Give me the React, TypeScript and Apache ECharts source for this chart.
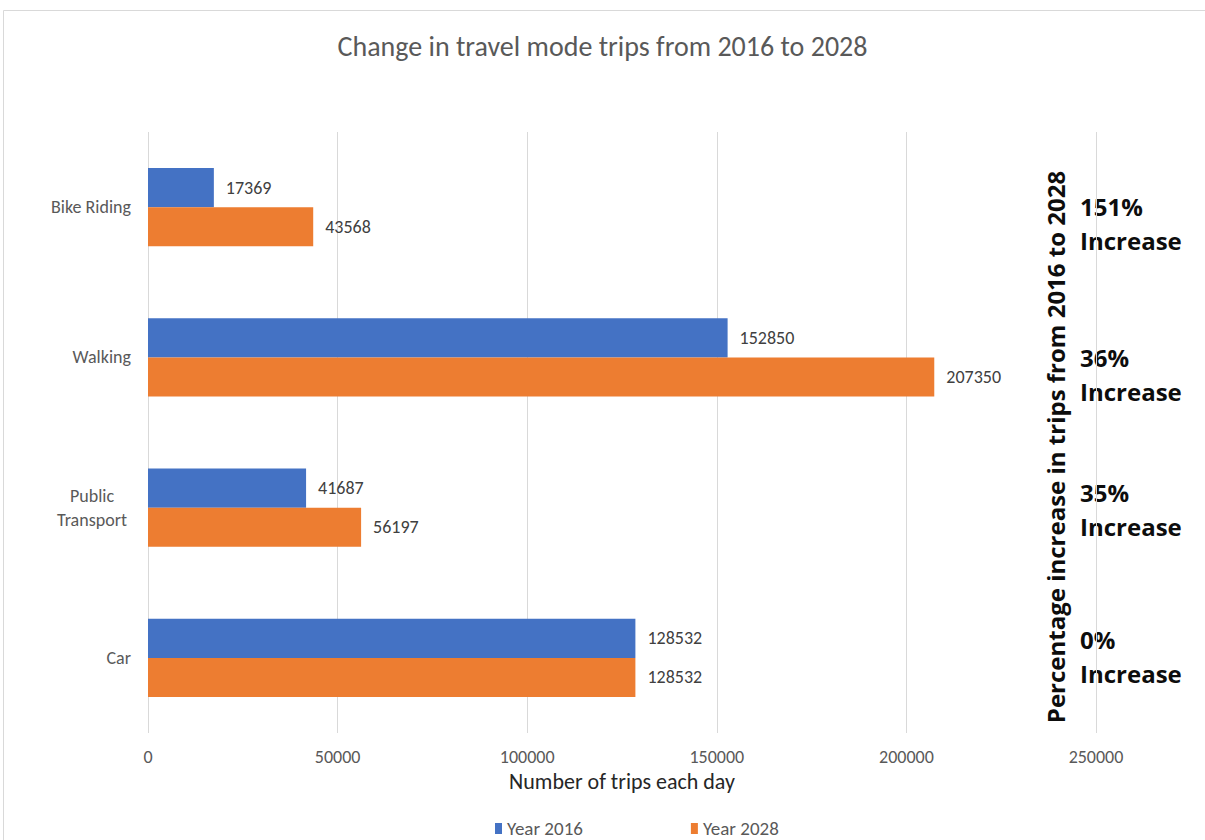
import React, { useEffect, useRef } from "react";
import * as echarts from "echarts";

const categories = ["Car", "Public Transport", "Walking", "Bike Riding"];
const year2016 = [128532, 41687, 152850, 17369];
const year2028 = [128532, 56197, 207350, 43568];
const increaseLabels = ["0%", "35%", "36%", "151%"];
const xTicks = [0, 50000, 100000, 150000, 200000, 250000];

// annotation layout (vertical offset of first line from category centre)
const annotationOffsets = [-18, -15, 0, -1];

const FONT = "Carlito, Lato, 'Liberation Sans', sans-serif";
const BOLD = "'Open Sans', 'Noto Sans', sans-serif";

export default function App() {
  const ref = useRef<HTMLDivElement>(null);
  useEffect(() => {
    if (!ref.current) return;
    const chart = echarts.init(ref.current, null, { renderer: "svg" });
    const gridTop = 132;
    const gridBottom = 107;
    const plotH = 840 - gridTop - gridBottom;
    const band = plotH / categories.length;
    const pctTexts: any[] = increaseLabels.map((p, i) => {
      const cy = gridTop + plotH - band * (i + 0.5) + annotationOffsets[i];
      return {
        type: "text",
        x: 1080,
        y: cy - 17,
        style: {
          text: p + "\nIncrease",
          font: `bold 24px ${BOLD}`,
          fill: "#0d0d0d",
          lineHeight: 34,
          verticalAlign: "top",
        },
      };
    });
    const labelStyle = {
      show: true,
      position: "right",
      distance: 12,
      fontFamily: FONT,
      fontSize: 18,
      color: "#404040",
    };
    chart.setOption({
      animation: false,
      backgroundColor: "#ffffff",
      title: {
        text: "Change in travel mode trips from 2016 to 2028",
        left: "center",
        top: 27,
        textStyle: { fontFamily: FONT, fontSize: 28, fontWeight: "normal", color: "#595959" },
      },
      legend: {
        top: 814,
        left: 490,
        itemGap: 108,
        itemWidth: 7,
        itemHeight: 11,
        icon: "rect",
        textStyle: { fontFamily: FONT, fontSize: 19, color: "#595959" },
        data: ["Year 2016", "Year 2028"],
      },
      grid: { left: 148, right: 109, top: gridTop, bottom: gridBottom },
      xAxis: {
        type: "value",
        min: xTicks[0],
        max: xTicks[xTicks.length - 1],
        interval: 50000,
        name: "Number of trips each day",
        nameLocation: "middle",
        nameGap: 34,
        nameTextStyle: { fontFamily: FONT, fontSize: 22, color: "#262626" },
        axisLine: { show: false },
        axisTick: { show: false },
        axisLabel: {
          margin: 15,
          fontFamily: FONT,
          fontSize: 18,
          color: "#595959",
          formatter: (v: number) => String(v),
        },
        splitLine: { lineStyle: { color: "#d9d9d9", width: 1 } },
      },
      yAxis: {
        type: "category",
        data: categories,
        axisLine: { show: false },
        axisTick: { show: false },
        axisLabel: {
          margin: 17,
          fontFamily: FONT,
          fontSize: 18,
          color: "#595959",
          formatter: (v: string) =>
            v === "Public Transport" ? "{c|Public\nTransport}" : v,
          rich: {
            c: { width: 78, align: "center", fontFamily: FONT, fontSize: 18, color: "#595959", lineHeight: 24 },
          },
        },
      },
      series: [
        {
          name: "Year 2016",
          type: "bar",
          data: year2016,
          barGap: "0%",
          barCategoryGap: "48%",
          itemStyle: { color: "#4472C4" },
          label: labelStyle,
        },
        {
          name: "Year 2028",
          type: "bar",
          data: year2028,
          barGap: "0%",
          barCategoryGap: "48%",
          itemStyle: { color: "#ED7D31" },
          label: labelStyle,
        },
      ],
      graphic: [
        {
          type: "rect",
          shape: { x: 3.5, y: 10.5, width: 1220, height: 850 },
          style: { fill: "none", stroke: "#d9d9d9", lineWidth: 1 },
          silent: true,
          z: -1,
        },
        {
          type: "text",
          x: 1055,
          y: 447,
          rotation: Math.PI / 2,
          style: {
            text: "Percentage increase in trips from 2016 to 2028",
            font: `bold 24px ${BOLD}`,
            fill: "#0d0d0d",
            align: "center",
            verticalAlign: "middle",
          },
        },
        ...pctTexts,
      ],
    });
    return () => chart.dispose();
  }, []);
  return (
    <div
      ref={ref}
      style={{ position: "fixed", left: 0, top: 0, width: 1205, height: 840 }}
    />
  );
}
